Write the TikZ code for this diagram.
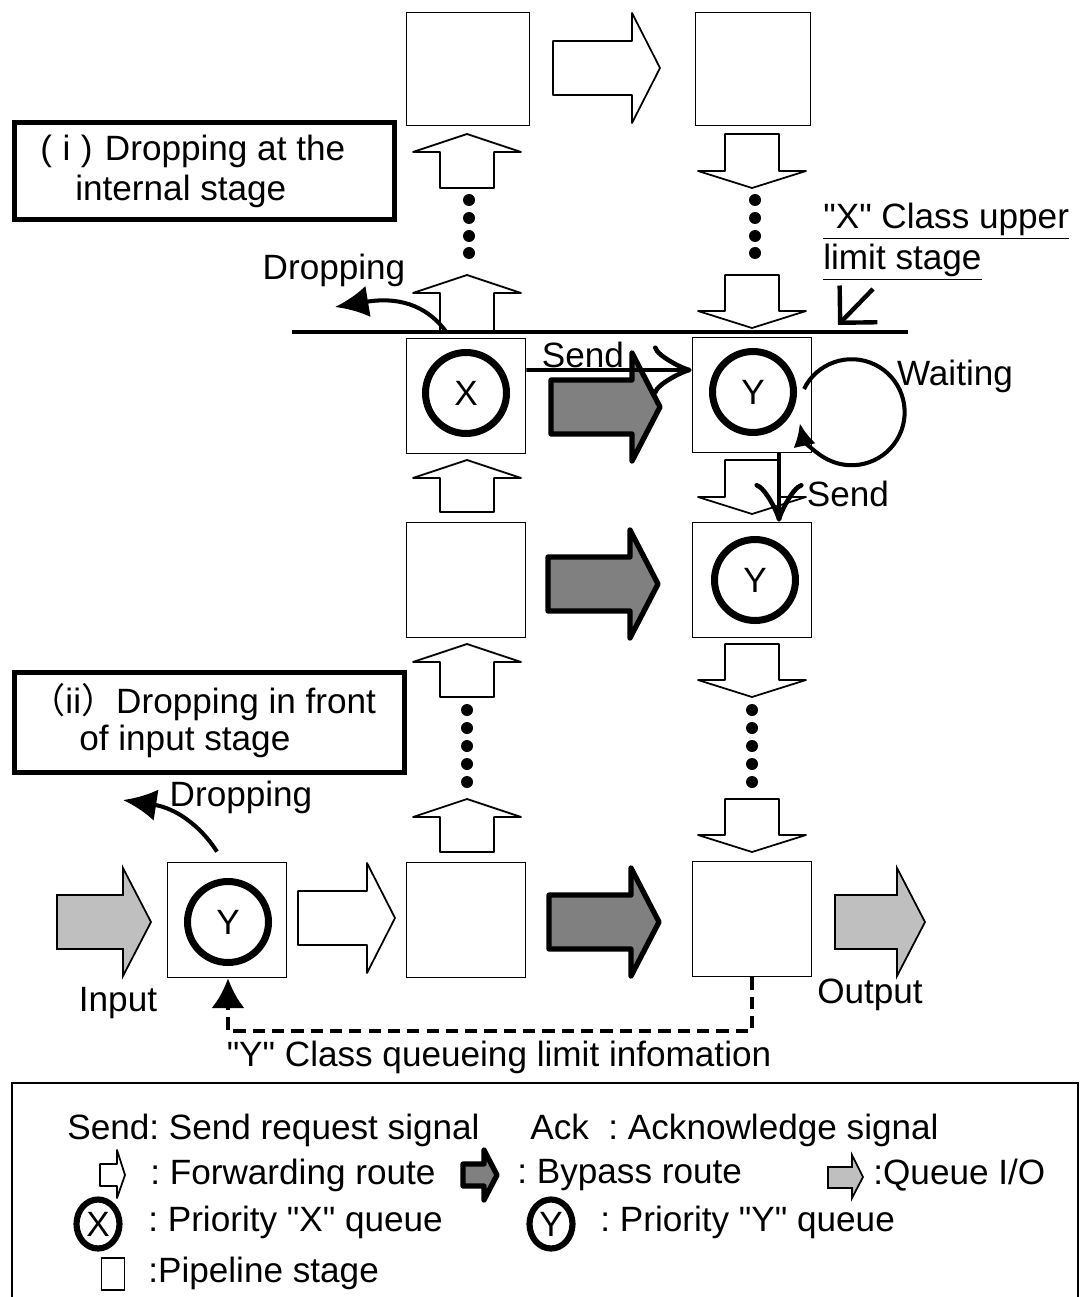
\documentclass[tikz,border=0pt]{standalone}
\usepackage{fontspec}
\setmainfont{Liberation Sans}[Ligatures=TeXOff]
\newfontfamily\cjk{Noto Sans CJK JP}
\usetikzlibrary{arrows.meta}
\usetikzlibrary{shapes.geometric}
\frenchspacing

\begin{document}
\begin{tikzpicture}[x=0.02cm, y=-0.02cm, font=\fontsize{20}{23.5}\selectfont,
 stage/.style={draw, line width=1pt, fill=white, minimum width=2.38cm, minimum height=2.3cm},
 queue/.style={circle, draw, line width=4pt, minimum size=1.62cm, inner sep=0pt},
 fwd/.style={draw, line width=1pt, fill=white, line join=round},
 bypass/.style={draw, line width=3pt, fill=black!50, line join=round},
 qio/.style={draw, line width=1pt, fill=black!25},
 frame/.style={draw, line width=2.8pt},
 lbl/.style={inner sep=0pt, anchor=west},
 legq/.style={ellipse, draw, line width=3.5pt, minimum width=0.86cm, minimum height=0.98cm, inner sep=0pt},
 drop/.style={line width=2.3pt, -{Latex[length=19pt,width=18pt]}},
 sendarr/.style={line width=2pt, -{Classical TikZ Rightarrow[length=22pt,width=28pt,line width=2.6pt]}}]
\useasboundingbox (0,0) rectangle (1080,1297);

% pipeline stages
\node[stage, minimum width=2.46cm, minimum height=2.26cm] (s1L) at (468,69) {};
\node[stage, minimum width=2.3cm, minimum height=2.26cm] (s1R) at (753,69) {};
\node[stage] (sX) at (466,396) {};
\node[stage] (sYa) at (752,395) {};
\node[stage] (s3L) at (466,580) {};
\node[stage] (sYb) at (752,580) {};
\node[stage] (sIn) at (227,920) {};
\node[stage] (s4L) at (466,920) {};
\node[stage] (s4R) at (752,919) {};
\node[queue] (qX) at (466,393) {X};
\node[queue] (qYa) at (753,392) {Y};
\node[queue] (qYb) at (755,580) {Y};
\node[queue] (qIn) at (228,922) {Y};

% horizontal block arrows
\foreach \xa/\xb/\yc in {553/660/68, 298/395/918}
 \draw[fwd] (\xa,\yc-27) -- (\xb-28,\yc-27) -- (\xb-28,\yc-55) -- (\xb,\yc) -- (\xb-28,\yc+55) -- (\xb-28,\yc+27) -- (\xa,\yc+27) -- cycle;
\foreach \xa/\xb/\yc in {551/660/407, 548/658/584, 549/659/922}
 \draw[bypass] (\xa,\yc-27) -- (\xb-28,\yc-27) -- (\xb-28,\yc-54) -- (\xb,\yc) -- (\xb-28,\yc+54) -- (\xb-28,\yc+27) -- (\xa,\yc+27) -- cycle;
\foreach \xa/\xb/\yc in {57/151/922, 835/925/922}
 \draw[qio] (\xa,\yc-27) -- (\xb-28,\yc-27) -- (\xb-28,\yc-54) -- (\xb,\yc) -- (\xb-28,\yc+54) -- (\xb-28,\yc+27) -- (\xa,\yc+27) -- cycle;

% vertical forwarding arrows
\foreach \yt/\yb in {134/188, 275/331, 460/512, 644/697, 799/852}
 \draw[fwd] (467,\yt) -- (521,\yt+18) -- (494,\yt+18) -- (494,\yb) -- (440,\yb) -- (440,\yt+18) -- (413,\yt+18) -- cycle;
\foreach \yt/\yb in {134/188, 275/328, 460/514, 644/697, 799/852}
 \draw[fwd] (725,\yt) -- (779,\yt) -- (779,\yb-17) -- (806,\yb-17) -- (752,\yb) -- (698,\yb-17) -- (725,\yb-17) -- cycle;

% dots
\foreach \y in {200,218,236,253} {
 \fill (469,\y) circle (6);
 \fill (755,\y) circle (6);
}
\foreach \y in {710,728,746,764,782} {
 \fill (467,\y) circle (6);
 \fill (752,\y) circle (6);
}

% upper limit stage
\draw[line width=2.3pt] (292,332) -- (908,332);
\node[lbl, align=left] (xlim) at (823,242) {\underline{"X" Class upper}\\\underline{limit stage}};
\coordinate (limtail) at (873,289);
\coordinate (limtip) at (838,325);
\draw[line width=2.5pt, -{Straight Barb[length=15pt,width=30pt]}] (limtail) -- (limtip);

% signals
\draw[sendarr] ([yshift=0.52cm]sX.east) -- ([yshift=0.5cm]sYa.west);
\node (send1) at (583,355) {Send};
\draw[sendarr] ([xshift=0.54cm]sYa.south) -- ([xshift=0.54cm]sYb.north);
\node (send2) at (848,494) {Send};
\draw[line width=2.3pt, -{Latex[length=13pt,width=13pt]}] (qYa.east) ++(7,-3) arc[start angle=206, end angle=528, radius=53];
\node (wait) at (955,376) {Waiting};

% dropping
\coordinate (dropA) at (335,307);
\draw[drop] ([xshift=-0.4cm]sX.north) ++(0,-6) .. controls (425,303) and (395,297) .. (dropA);
\node (dropTxtA) at (334,270) {Dropping};
\coordinate (dropB) at (123,800);
\draw[drop] ([xshift=-0.2cm]sIn.north) ++(0,-10) .. controls (200,825) and (175,808) .. (dropB);
\node (dropTxtB) at (241,797) {Dropping};

% queueing limit information
\draw[line width=2.3pt, dash pattern=on 7pt off 4pt, -{Latex[length=17pt,width=19pt]}] (s4R.south) -- ++(0,54) -| (qIn |- sIn.south);
\node (limInfo) at (499,1057) {"Y" Class queueing limit infomation};
\node (inTxt) at (118,1003) {Input};
\node (outTxt) at (870,995) {Output};

% dropping cases
\node[frame, minimum width=7.6cm, minimum height=1.94cm] (boxI) at (204.5,171) {};
\node[lbl] (txtIa) at (40,151) {(\hspace{0.3em}i\hspace{0.3em})\hspace{0.35em}Dropping at the};
\node[lbl] (txtIb) at (75,191) {internal stage};
\node[frame, minimum width=7.8cm, minimum height=2cm] (boxII) at (209.5,722.5) {};
\node[lbl] (txtIIa) at (30,702) {{\cjk （}ii{\cjk ）}Dropping in front};
\node[lbl] (txtIIb) at (79,741) {of input stage};

% legend
\draw[line width=1.2pt] (12,1310) -- (12,1083) -- (1078,1083) -- (1078,1310);
\node[lbl] (legSend) at (67,1130) {Send: Send request signal};
\node[lbl] (legAck) at (530,1130) {Ack\ \ : Acknowledge signal};
\draw[fwd] (100,1164) -- (117,1164) -- (117,1150) -- (125,1175) -- (117,1198) -- (117,1186) -- (100,1186) -- cycle;
\node[lbl] (legFwd) at (150,1175) {: Forwarding route};
\draw[bypass] (463,1164) -- (484,1164) -- (484,1150) -- (497,1175) -- (484,1200) -- (484,1186) -- (463,1186) -- cycle;
\node[lbl] (legByp) at (517,1175) {: Bypass route};
\draw[qio] (828,1167) -- (852,1167) -- (852,1155) -- (863,1177) -- (852,1198) -- (852,1188) -- (828,1188) -- cycle;
\node[lbl] (legQio) at (873,1175) {:Queue I/O};
\node[legq] (legX) at (98,1224) {X};
\node[lbl] (legXtxt) at (148,1222) {: Priority "X" queue};
\node[legq] (legY) at (551,1224) {Y};
\node[lbl] (legYtxt) at (600,1222) {: Priority "Y" queue};
\node[draw, line width=0.8pt, minimum width=0.46cm, minimum height=0.64cm] (legStage) at (113,1274) {};
\node[lbl] (legStageTxt) at (148,1273) {:Pipeline stage};
\end{tikzpicture}
\end{document}
